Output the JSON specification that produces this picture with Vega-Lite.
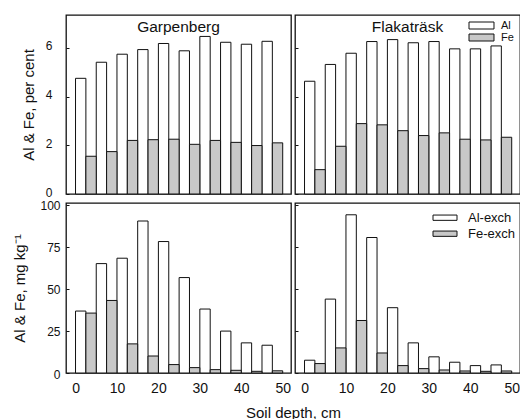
{
  "$schema": "https://vega.github.io/schema/vega-lite/v6.json",
  "autosize": {"type": "pad"},
  "padding": {"left": 11, "top": 14, "right": 0, "bottom": 0},
  "background": "white",
  "config": {
    "font": "Liberation Sans",
    "view": {"stroke": "#111", "strokeWidth": 1.3},
    "axis": {"grid": false, "domain": false, "labelColor": "#111", "titleColor": "#111", "titleFontWeight": "normal", "labelFontSize": 12, "titleFontSize": 15, "tickColor": "#111"},
    "legend": {"labelFont": "Liberation Sans", "labelColor": "#111", "symbolStrokeColor": "#111", "symbolStrokeWidth": 1, "padding": 0, "title": null},
    "title": {"fontWeight": "normal", "color": "#111", "fontSize": 15.5}
  },
  "datasets": {
    "soil": [
      {"site": "Garpenberg", "from": 0, "to": 5, "Al": 4.75, "Fe": 1.55, "Al_exch": 36.8, "Fe_exch": 35.6},
      {"site": "Garpenberg", "from": 5, "to": 10, "Al": 5.41, "Fe": 1.74, "Al_exch": 65.0, "Fe_exch": 43.1},
      {"site": "Garpenberg", "from": 10, "to": 15, "Al": 5.74, "Fe": 2.2, "Al_exch": 68.2, "Fe_exch": 17.3},
      {"site": "Garpenberg", "from": 15, "to": 20, "Al": 5.93, "Fe": 2.23, "Al_exch": 90.3, "Fe_exch": 10.1},
      {"site": "Garpenberg", "from": 20, "to": 25, "Al": 6.18, "Fe": 2.25, "Al_exch": 78.1, "Fe_exch": 5.0},
      {"site": "Garpenberg", "from": 25, "to": 30, "Al": 5.88, "Fe": 2.04, "Al_exch": 56.7, "Fe_exch": 3.2},
      {"site": "Garpenberg", "from": 30, "to": 35, "Al": 6.47, "Fe": 2.2, "Al_exch": 38.0, "Fe_exch": 2.0},
      {"site": "Garpenberg", "from": 35, "to": 40, "Al": 6.23, "Fe": 2.12, "Al_exch": 24.9, "Fe_exch": 1.6},
      {"site": "Garpenberg", "from": 40, "to": 45, "Al": 6.15, "Fe": 1.99, "Al_exch": 17.9, "Fe_exch": 1.0},
      {"site": "Garpenberg", "from": 45, "to": 50, "Al": 6.27, "Fe": 2.1, "Al_exch": 16.5, "Fe_exch": 1.3},
      {"site": "Flakaträsk", "from": 0, "to": 5, "Al": 4.63, "Fe": 1.0, "Al_exch": 7.6, "Fe_exch": 5.6},
      {"site": "Flakaträsk", "from": 5, "to": 10, "Al": 5.32, "Fe": 1.96, "Al_exch": 43.9, "Fe_exch": 14.9},
      {"site": "Flakaträsk", "from": 10, "to": 15, "Al": 5.78, "Fe": 2.89, "Al_exch": 94.0, "Fe_exch": 31.2},
      {"site": "Flakaträsk", "from": 15, "to": 20, "Al": 6.26, "Fe": 2.84, "Al_exch": 80.5, "Fe_exch": 11.9},
      {"site": "Flakaträsk", "from": 20, "to": 25, "Al": 6.34, "Fe": 2.6, "Al_exch": 38.8, "Fe_exch": 4.4},
      {"site": "Flakaträsk", "from": 25, "to": 30, "Al": 6.21, "Fe": 2.4, "Al_exch": 17.9, "Fe_exch": 2.6},
      {"site": "Flakaträsk", "from": 30, "to": 35, "Al": 6.26, "Fe": 2.51, "Al_exch": 9.6, "Fe_exch": 1.8},
      {"site": "Flakaträsk", "from": 35, "to": 40, "Al": 5.96, "Fe": 2.25, "Al_exch": 6.4, "Fe_exch": 1.2},
      {"site": "Flakaträsk", "from": 40, "to": 45, "Al": 5.96, "Fe": 2.22, "Al_exch": 4.4, "Fe_exch": 1.0},
      {"site": "Flakaträsk", "from": 45, "to": 50, "Al": 6.08, "Fe": 2.33, "Al_exch": 4.8, "Fe_exch": 1.2}
    ]
  },
  "columns": 2,
  "spacing": {"row": 9, "column": 4},
  "bounds": "flush",
  "resolve": {"scale": {"fill": "independent", "x": "independent", "y": "independent"}, "legend": {"fill": "independent"}},
  "concat": [
    {
      "width": 225, "height": 179,
      "title": {"text": "Garpenberg", "baseline": "top", "offset": -20, "anchor": "middle", "frame": "group"},
      "data": {"name": "soil"},
      "transform": [{"filter": "datum.site === 'Garpenberg'"}, {"calculate": "(datum.from + datum.to) / 2", "as": "mid"}],
      "encoding": {
        "x": {"field": "from", "type": "quantitative", "scale": {"domain": [-2.3, 52], "nice": false, "zero": false}, "axis": {"labels": false, "ticks": false, "title": null}}
      },
      "layer": [
        {
          "mark": {"type": "bar", "stroke": "#111", "strokeWidth": 1},
          "encoding": {
            "x2": {"field": "mid"},
            "y": {"field": "Al", "type": "quantitative", "scale": {"domain": [0, 7.35], "nice": false}, "axis": {"title": "Al & Fe, per cent", "values": [0, 1, 2, 3, 4, 5, 6, 7], "labelExpr": "datum.value % 2 === 0 ? datum.label : ''", "tickSize": -3, "labelPadding": 17, "labelOffset": -2, "titleX": -38, "titleBaseline": "middle"}},
            "y2": {"datum": 0},
            "fill": {"datum": "Al", "scale": {"domain": ["Al", "Fe"], "range": ["white", "#c8c8c8"]}, "legend": null}
          }
        },
        {
          "mark": {"type": "bar", "stroke": "#111", "strokeWidth": 1},
          "encoding": {
            "x": {"field": "mid", "type": "quantitative"},
            "x2": {"field": "to"},
            "y": {"field": "Fe", "type": "quantitative"},
            "y2": {"datum": 0},
            "fill": {"datum": "Fe"}
          }
        }
      ]
    },
    {
      "width": 225, "height": 179,
      "title": {"text": "Flakaträsk", "baseline": "top", "offset": -20, "anchor": "middle", "frame": "group"},
      "data": {"name": "soil"},
      "transform": [{"filter": "datum.site === 'Flakaträsk'"}, {"calculate": "(datum.from + datum.to) / 2", "as": "mid"}],
      "encoding": {
        "x": {"field": "from", "type": "quantitative", "scale": {"domain": [-2.3, 52], "nice": false, "zero": false}, "axis": {"labels": false, "ticks": false, "title": null}}
      },
      "layer": [
        {
          "mark": {"type": "bar", "stroke": "#111", "strokeWidth": 1},
          "encoding": {
            "x2": {"field": "mid"},
            "y": {"field": "Al", "type": "quantitative", "scale": {"domain": [0, 7.35], "nice": false}, "axis": {"title": null, "labels": false, "values": [0, 1, 2, 3, 4, 5, 6, 7], "tickSize": -3}},
            "y2": {"datum": 0},
            "fill": {"datum": "Al", "scale": {"domain": ["Al", "Fe"], "range": ["white", "#c8c8c8"]},
              "legend": {"orient": "none", "legendX": 181, "legendY": 5, "symbolType": "M-3.57,-1H3.57V1H-3.57Z", "symbolSize": 49, "labelFontSize": 11, "labelOffset": 14, "rowPadding": 0}}
          }
        },
        {
          "mark": {"type": "bar", "stroke": "#111", "strokeWidth": 1},
          "encoding": {
            "x": {"field": "mid", "type": "quantitative"},
            "x2": {"field": "to"},
            "y": {"field": "Fe", "type": "quantitative"},
            "y2": {"datum": 0},
            "fill": {"datum": "Fe"}
          }
        }
      ]
    },
    {
      "width": 225, "height": 170,
      "data": {"name": "soil"},
      "transform": [{"filter": "datum.site === 'Garpenberg'"}, {"calculate": "(datum.from + datum.to) / 2", "as": "mid"}],
      "encoding": {
        "x": {"field": "from", "type": "quantitative", "scale": {"domain": [-2.3, 52], "nice": false, "zero": false}, "axis": {"values": [0, 10, 20, 30, 40, 50], "ticks": false, "labelPadding": 8.5, "labelFontSize": 14, "title": "Soil depth, cm", "titleX": 227, "titleY": 32, "titleBaseline": "top"}}
      },
      "layer": [
        {
          "mark": {"type": "bar", "stroke": "#111", "strokeWidth": 1},
          "encoding": {
            "x2": {"field": "mid"},
            "y": {"field": "Al_exch", "type": "quantitative", "scale": {"domain": [0, 101], "nice": false}, "axis": {"title": "Al & Fe, mg kg⁻¹", "values": [0, 12.5, 25, 37.5, 50, 62.5, 75, 87.5, 100], "labelExpr": "datum.value % 25 === 0 ? datum.label : ''", "tickSize": -3, "labelPadding": 9, "labelOffset": 1, "titleX": -47, "titleBaseline": "middle"}},
            "y2": {"datum": 0},
            "fill": {"datum": "Al-exch", "scale": {"domain": ["Al-exch", "Fe-exch"], "range": ["white", "#c8c8c8"]}, "legend": null}
          }
        },
        {
          "mark": {"type": "bar", "stroke": "#111", "strokeWidth": 1},
          "encoding": {
            "x": {"field": "mid", "type": "quantitative"},
            "x2": {"field": "to"},
            "y": {"field": "Fe_exch", "type": "quantitative"},
            "y2": {"datum": 0},
            "fill": {"datum": "Fe-exch"}
          }
        }
      ]
    },
    {
      "width": 225, "height": 170,
      "data": {"name": "soil"},
      "transform": [{"filter": "datum.site === 'Flakaträsk'"}, {"calculate": "(datum.from + datum.to) / 2", "as": "mid"}],
      "encoding": {
        "x": {"field": "from", "type": "quantitative", "scale": {"domain": [-2.3, 52], "nice": false, "zero": false}, "axis": {"values": [0, 10, 20, 30, 40, 50], "ticks": false, "labelPadding": 8.5, "labelFontSize": 14, "title": null}}
      },
      "layer": [
        {
          "mark": {"type": "bar", "stroke": "#111", "strokeWidth": 1},
          "encoding": {
            "x2": {"field": "mid"},
            "y": {"field": "Al_exch", "type": "quantitative", "scale": {"domain": [0, 101], "nice": false}, "axis": {"title": null, "labels": false, "values": [0, 12.5, 25, 37.5, 50, 62.5, 75, 87.5, 100], "tickSize": -3}},
            "y2": {"datum": 0},
            "fill": {"datum": "Al-exch", "scale": {"domain": ["Al-exch", "Fe-exch"], "range": ["white", "#c8c8c8"]},
              "legend": {"orient": "none", "legendX": 143.5, "legendY": 8.2, "symbolType": "M-4.8,-1.06H4.8V1.06H-4.8Z", "symbolSize": 25, "labelFontSize": 13, "labelOffset": 16.5, "rowPadding": 2}}
          }
        },
        {
          "mark": {"type": "bar", "stroke": "#111", "strokeWidth": 1},
          "encoding": {
            "x": {"field": "mid", "type": "quantitative"},
            "x2": {"field": "to"},
            "y": {"field": "Fe_exch", "type": "quantitative"},
            "y2": {"datum": 0},
            "fill": {"datum": "Fe-exch"}
          }
        }
      ]
    }
  ]
}
